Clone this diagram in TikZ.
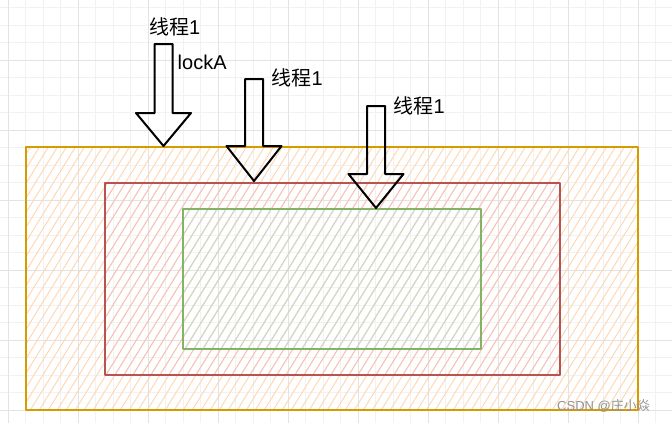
\documentclass[tikz,border=0pt]{standalone}
\usepackage{fontspec}
\setmainfont{Liberation Sans}
\newfontfamily\cjk{Noto Sans CJK SC}
\definecolor{lockorange}{HTML}{D79B00}
\definecolor{lockred}{HTML}{B85450}
\definecolor{lockgreen}{HTML}{82B366}
\definecolor{hatchorange}{HTML}{FFD6AE}
\definecolor{hatchred}{HTML}{F6C2C0}
\definecolor{hatchgreen}{HTML}{C8DFC6}
\tikzset{
	label/.style={anchor=west, inner sep=0pt, font=\fontsize{20}{24}\selectfont},
	blockarrow/.style={draw=black, line width=2pt},
}
\begin{document}
\begin{tikzpicture}[x=1pt, y=-1pt, line join=round, line cap=round]
	\useasboundingbox (0,0) rectangle (672,423);
	\fill[white] (0,0) rectangle (672,423);
	% grid
	\foreach \k in {0,...,37}{
		\draw[gray!10, line width=.7pt] (8.3+17.5*\k,0) -- (8.3+17.5*\k,423);
	}
	\foreach \k in {0,...,23}{
		\draw[gray!10, line width=.7pt] (0,7.5+17.5*\k) -- (672,7.5+17.5*\k);
	}
	\foreach \k in {0,...,9}{
		\draw[gray!22, line width=.9pt] (8.3+70*\k,0) -- (8.3+70*\k,423);
	}
	\foreach \k in {0,...,5}{
		\draw[gray!22, line width=.9pt] (0,60+70*\k) -- (672,60+70*\k);
	}
	\path
	(26,147) coordinate (O1) (638,410) coordinate (O2)
	(105,183) coordinate (R1) (560,375) coordinate (R2)
	(183,209) coordinate (G1) (481,349) coordinate (G2)
	;
	% hatching
	\foreach \a/\b/\c in {O1/O2/hatchorange, R1/R2/hatchred, G1/G2/hatchgreen}{
		\begin{scope}
			\clip (\a) rectangle (\b);
			\foreach \k in {-32,...,78}{
				\draw[\c, line width=.9pt] (9*\k,430) -- ++(265,-430);
			}
		\end{scope}
	}
	\draw[lockorange, line width=2.4pt] (O1) rectangle (O2);
	\draw[lockred, line width=2pt] (R1) rectangle (R2);
	\draw[lockgreen, line width=2pt] (G1) rectangle (G2);
	% arrows
	\foreach \x/\t/\h/\e in {163.5/44/113/146, 254/79/146/181, 376/106/174/208}{
		\draw[blockarrow] (\x-9,\t) -- (\x+9,\t) -- (\x+9,\h) -- (\x+27.5,\h) -- (\x,\e)
			-- (\x-27.5,\h) -- (\x-9,\h) -- cycle;
	}
	\node[label] (t1) at (149,27) {{\cjk 线程}1};
	\node[label] (lockA) at (177.5,62) {lockA};
	\node[label] (t2) at (271.5,78) {{\cjk 线程}1};
	\node[label] (t3) at (393.5,106) {{\cjk 线程}1};
	\node[anchor=west, inner sep=0pt, text=gray!85, font=\fontsize{13}{15}\selectfont] (mark) at (557,406) {CSDN @{\cjk 庄小焱}};
\end{tikzpicture}
\end{document}
